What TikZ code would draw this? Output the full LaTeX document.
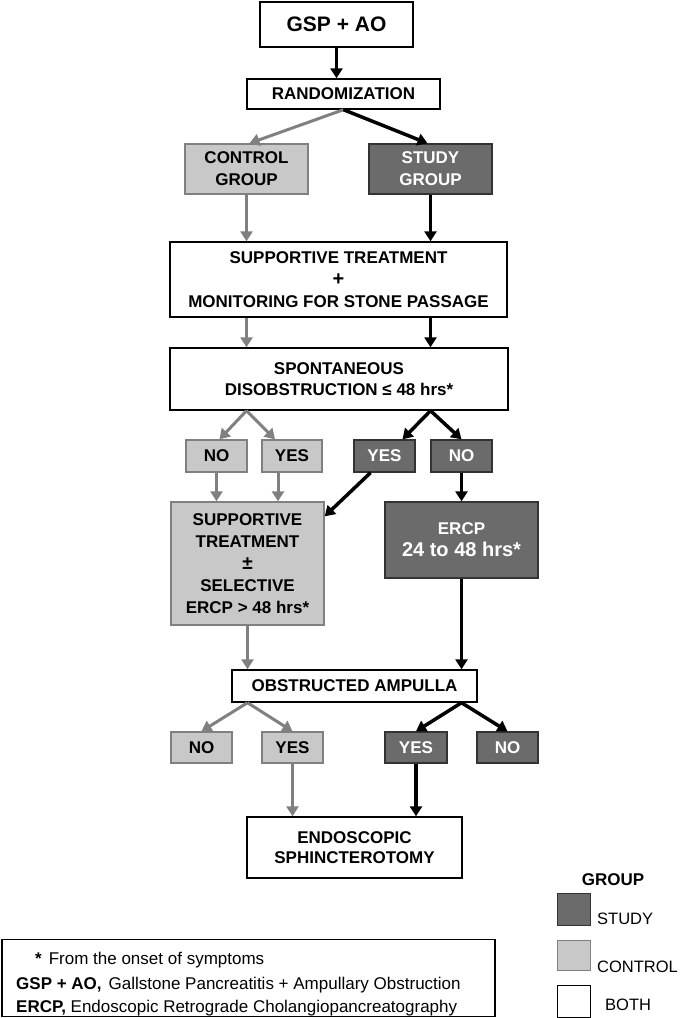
\documentclass[tikz,border=0pt]{standalone}
\usepackage{fontspec}
\setmainfont{Liberation Sans}
\setsansfont{Liberation Sans}
\usetikzlibrary{arrows.meta,calc}
\definecolor{lightg}{HTML}{C8C8C8}
\definecolor{darkg}{HTML}{6B6B6B}
\definecolor{arrg}{HTML}{808080}
\begin{document}
\begin{tikzpicture}[x=1pt,y=-1pt,
  box/.style={draw=black,line width=1.4pt,fill=white,inner sep=0pt,align=center,
    font=\fontsize{17}{22}\selectfont\bfseries},
  ctrlbox/.style={box,draw=arrg,fill=lightg},
  studybox/.style={box,draw=black!80,fill=darkg,text=white},
  garr/.style={draw=arrg,line width=3pt,-{Triangle[length=10pt,width=12pt]}},
  barr/.style={draw=black,line width=3.5pt,-{Triangle[length=10pt,width=12pt]}},
  foottext/.style={anchor=base west,inner sep=0pt,font=\fontsize{17}{20}\selectfont},
  legtext/.style={anchor=west,inner sep=0pt,font=\fontsize{16.5}{19}\selectfont}
]
\useasboundingbox (0,0) rectangle (680,1018);
% nodes
\node[box,minimum width=153pt,minimum height=45pt,font=\fontsize{21}{24}\selectfont\bfseries] (gsp) at (336.5,24.5) {GSP + AO};
\node[box,minimum width=193pt,minimum height=30pt] (rand) at (343.5,94) {RANDOMIZATION};
\node[ctrlbox,minimum width=123pt,minimum height=50pt] (ctrl) at (246.5,169) {CONTROL\\GROUP};
\node[studybox,minimum width=123pt,minimum height=50pt] (study) at (430.5,169) {STUDY\\GROUP};
\node[box,minimum width=337pt,minimum height=75pt] (sup) at (338.5,279.5) {SUPPORTIVE TREATMENT\\{\fontsize{20}{22}\selectfont +}\\MONITORING FOR STONE PASSAGE};
\node[box,minimum width=338pt,minimum height=62pt,font=\fontsize{17}{21}\selectfont\bfseries] (spont) at (339,379) {SPONTANEOUS\\DISOBSTRUCTION ≤ 48 hrs*};
\node[ctrlbox,minimum width=61pt,minimum height=32pt] (no1) at (216.5,456) {NO};
\node[ctrlbox,minimum width=60pt,minimum height=32pt] (yes1) at (292,456) {YES};
\node[studybox,minimum width=61pt,minimum height=32pt] (yes2) at (384.5,456) {YES};
\node[studybox,minimum width=61pt,minimum height=32pt] (no2) at (461.5,456) {NO};
\node[ctrlbox,minimum width=153pt,minimum height=123pt] (sup2) at (247.5,563.5) {SUPPORTIVE\\TREATMENT\\{\fontsize{19}{22}\selectfont ±}\\SELECTIVE\\ERCP > 48 hrs*};
\node[studybox,minimum width=153pt,minimum height=76pt] (ercp) at (461.5,540) {ERCP\\{\fontsize{20}{23}\selectfont 24 to 48 hrs*}};
\node[box,minimum width=245pt,minimum height=32pt] (obst) at (354.5,686) {OBSTRUCTED AMPULLA};
\node[ctrlbox,minimum width=61pt,minimum height=31pt] (no3) at (201.5,747.5) {NO};
\node[ctrlbox,minimum width=61pt,minimum height=31pt] (yes3) at (292.5,747.5) {YES};
\node[studybox,minimum width=62pt,minimum height=31pt] (yes4) at (416,747.5) {YES};
\node[studybox,minimum width=61pt,minimum height=31pt] (no4) at (507.5,747.5) {NO};
\node[box,minimum width=215pt,minimum height=61pt,font=\fontsize{17}{20}\selectfont\bfseries] (endo) at (354.5,847.5) {ENDOSCOPIC\\SPHINCTEROTOMY};
% legend
\node[inner sep=0pt,font=\fontsize{17}{19}\selectfont\bfseries] (grp) at (613,880) {GROUP};
\node[studybox,line width=1pt,minimum width=33pt,minimum height=32pt] (lstudy) at (573.5,909) {};
\node[ctrlbox,line width=1pt,minimum width=33pt,minimum height=30pt] (lctrl) at (573.5,955) {};
\node[box,line width=1pt,minimum width=33pt,minimum height=32pt] (lboth) at (573.5,1001) {};
\node[legtext] (tstudy) at (597,919) {STUDY};
\node[legtext] (tctrl) at (597,967) {CONTROL};
\node[legtext] (tboth) at (605,1005) {BOTH};
% footnote
\node[draw=black,line width=1.4pt,minimum width=493pt,minimum height=77pt,inner sep=0pt] (foot) at (248.5,978) {};
\node[foottext] (f1) at (35,964) {{\bfseries *}\hspace{7pt}From the onset of symptoms};
\node[foottext] (f2) at (16,989) {{\bfseries GSP + AO,}\hspace{7pt}Gallstone Pancreatitis + Ampullary Obstruction};
\node[foottext] (f3) at (16,1012) {{\bfseries ERCP,} Endoscopic Retrograde Cholangiopancreatography};
% connectors
\draw[barr] (gsp.south) -- (gsp.south |- rand.north);
\draw[garr] (rand.south) -- ([xshift=3pt]ctrl.north);
\draw[barr] (rand.south) -- ([xshift=-3pt]study.north);
\draw[garr] (ctrl.south) -- (ctrl.south |- sup.north);
\draw[barr] (study.south) -- (study.south |- sup.north);
\draw[garr] (ctrl.south |- sup.south) -- (ctrl.south |- spont.north);
\draw[barr] (study.south |- sup.south) -- (study.south |- spont.north);
\draw[garr] (ctrl.south |- spont.south) -- ([xshift=3pt]no1.north);
\draw[garr] (ctrl.south |- spont.south) -- ([xshift=-17pt]yes1.north);
\draw[barr] (study.south |- spont.south) -- ([xshift=18pt]yes2.north);
\draw[barr] (study.south |- spont.south) -- (no2.north);
\draw[garr] (no1.south) -- (no1.south |- sup2.north);
\draw[garr] ([xshift=-14pt]yes1.south) -- ([xshift=-14pt]yes1.south |- sup2.north);
\draw[barr] ([xshift=-14pt]yes2.south) -- ($(sup2.north east)+(0,15)$);
\draw[barr] (no2.south) -- (no2.south |- ercp.north);
\draw[garr] (sup2.south) -- (sup2.south |- obst.north);
\draw[barr] (ercp.south) -- (ercp.south |- obst.north);
\draw[garr] (sup2.south |- obst.south) -- (no3.north);
\draw[garr] (sup2.south |- obst.south) -- (yes3.north);
\draw[barr] (ercp.south |- obst.south) -- (yes4.north);
\draw[barr] (ercp.south |- obst.south) -- (no4.north);
\draw[garr] (yes3.south) -- (yes3.south |- endo.north);
\draw[barr] (yes4.south) -- (yes4.south |- endo.north);
\end{tikzpicture}
\end{document}
